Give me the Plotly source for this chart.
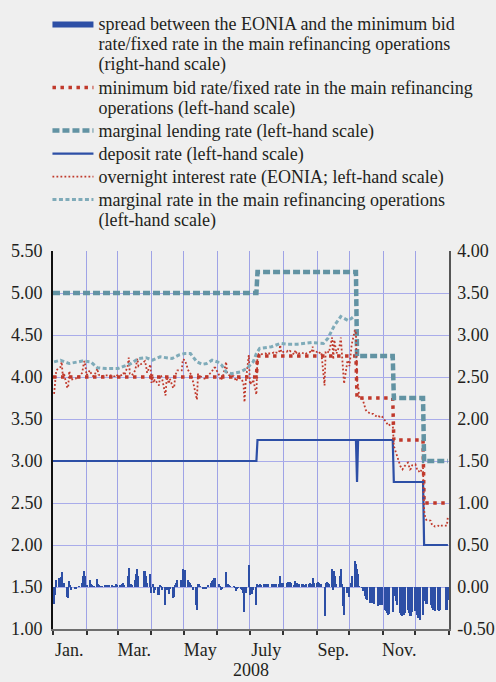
import pandas as pd
import plotly.graph_objects as go

# ---------------- data ----------------
# key ECB rates: effective dates of changes and levels (% p.a.)
mro_dates = ["2008-01-01", "2008-07-08", "2008-10-08", "2008-11-11", "2008-12-09"]
mro_vals = [4.00, 4.25, 3.75, 3.25, 2.50]
mlf_dates = ["2008-01-01", "2008-07-08", "2008-10-08", "2008-11-11", "2008-12-09"]
mlf_vals = [5.00, 5.25, 4.25, 3.75, 3.00]
dep_dates = ["2008-01-01", "2008-07-08", "2008-10-08", "2008-10-09", "2008-11-11", "2008-12-09"]
dep_vals = [3.00, 3.25, 2.75, 3.25, 2.75, 2.00]

# marginal rate in the main refinancing operations (weekly tenders)
mr_dates = ["2008-01-02", "2008-01-08", "2008-01-16", "2008-01-28", "2008-02-05", "2008-02-11",
            "2008-02-19", "2008-03-01", "2008-03-05", "2008-03-13", "2008-03-20", "2008-03-27",
            "2008-04-02", "2008-04-09", "2008-04-20", "2008-04-26", "2008-05-02", "2008-05-07",
            "2008-05-13", "2008-05-18", "2008-05-22", "2008-05-27", "2008-06-01", "2008-06-05",
            "2008-06-09", "2008-06-14", "2008-06-22", "2008-06-28", "2008-07-04", "2008-07-07",
            "2008-07-10", "2008-07-21", "2008-07-29", "2008-08-05", "2008-08-14", "2008-08-27",
            "2008-09-07", "2008-09-11", "2008-09-17", "2008-09-23", "2008-09-30", "2008-10-06"]
mr_vals = [4.18, 4.20, 4.16, 4.19, 4.18, 4.11, 4.10, 4.10, 4.12, 4.16, 4.22, 4.23,
           4.20, 4.24, 4.22, 4.26, 4.28, 4.28, 4.18, 4.15, 4.16, 4.20, 4.18, 4.14,
           4.06, 4.04, 4.06, 4.10, 4.18, 4.28, 4.34, 4.36, 4.40, 4.39, 4.39, 4.41,
           4.40, 4.46, 4.61, 4.72, 4.67, 4.73]

# spread EONIA minus minimum bid/fixed rate, per TARGET business day, by month
spread_jan = [-0.20, -0.09, 0.08, 0.11, 0.12, 0.18, 0.02, 0.05, -0.12, -0.13, 0.07, 0.02, -0.03,
              -0.02, -0.02, 0.00, 0.00, 0.01, 0.05, 0.13, 0.19, 0.13]
spread_feb = [0.02, 0.08, 0.04, 0.02, 0.01, 0.01, 0.10, 0.03, 0.02, 0.01, 0.01, 0.02, 0.02, 0.02,
              0.02, 0.02, 0.02, 0.01, 0.01, 0.03, 0.02]
spread_mar = [0.02, 0.02, 0.03, 0.05, 0.02, 0.13, 0.23, 0.04, 0.03, 0.02, 0.08, 0.15, 0.22, 0.13,
              0.19, 0.19, 0.13, 0.05, 0.15]
spread_apr = [-0.07, 0.03, -0.07, -0.03, -0.09, -0.10, 0.02, 0.01, -0.03, -0.22, -0.03, -0.02,
              -0.08, -0.02, -0.13, -0.12, 0.02, 0.05, 0.08, 0.08, 0.08, 0.21]
spread_may = [0.20, 0.08, 0.06, 0.05, 0.02, -0.03, -0.21, -0.27, 0.03, 0.03, 0.01, -0.02, -0.02,
              -0.02, 0.00, 0.02, 0.05, 0.07, 0.08, 0.11, 0.11]
spread_jun = [0.04, 0.01, -0.04, -0.02, 0.00, 0.18, 0.04, 0.03, 0.02, 0.01, 0.01, -0.01, -0.05,
              -0.02, -0.01, -0.02, -0.04, -0.07, -0.30, -0.07, 0.26]
spread_jul = [-0.09, -0.07, -0.08, -0.03, -0.21, 0.03, 0.02, 0.03, 0.02, 0.03, 0.03, 0.03, 0.04,
              0.03, 0.03, 0.04, 0.04, 0.03, 0.04, 0.04, 0.13, 0.04, 0.05]
spread_aug = [0.05, 0.05, 0.06, 0.05, 0.06, 0.05, 0.02, 0.07, 0.04, 0.05, 0.03, 0.04, 0.03, 0.02,
              0.02, 0.03, 0.04, 0.05, 0.04, 0.11, 0.05]
spread_sep = [0.05, 0.06, 0.05, 0.03, 0.04, -0.35, 0.05, 0.06, 0.05, 0.04, 0.22, -0.04, 0.19, 0.13,
              0.03, 0.13, 0.22, 0.03, -0.23, -0.33, -0.07, -0.05]
spread_oct = [-0.12, 0.05, 0.13, 0.31, 0.27, 0.21, 0.15, 0.01, -0.01, -0.05, -0.11, -0.14, -0.16,
              -0.19, -0.19, -0.19, -0.19, -0.20, -0.23, -0.22, -0.22, -0.21, -0.22]
spread_nov = [-0.27, -0.29, -0.31, -0.33, -0.32, -0.30, -0.07, -0.11, -0.17, -0.21, -0.31, -0.33,
              -0.35, -0.33, -0.31, -0.27, -0.31, -0.35, -0.34, -0.30]
spread_dec = [-0.29, -0.33, -0.37, -0.37, -0.39, -0.33, -0.09, -0.17, -0.20, -0.20, -0.21, -0.25,
              -0.27, -0.27, -0.28, -0.27, -0.28, -0.27, -0.27, -0.27, -0.16]

target_holidays = ["2008-01-01", "2008-03-21", "2008-03-24", "2008-05-01", "2008-12-25", "2008-12-26"]

month_ticks = ["2008-01-16", "2008-03-16", "2008-05-16", "2008-07-16", "2008-09-16", "2008-11-16"]
month_labels = ["Jan.", "Mar.", "May", "July", "Sep.", "Nov."]
month_starts = ["2008-%02d-01" % m for m in range(1, 13)] + ["2009-01-01"]

left_ticks = [1.0, 1.5, 2.0, 2.5, 3.0, 3.5, 4.0, 4.5, 5.0, 5.5]
right_ticks = [-0.5, 0.0, 0.5, 1.0, 1.5, 2.0, 2.5, 3.0, 3.5, 4.0]
right_labels = ["-0.50", "0.00", "0.50", "1.00", "1.50", "2.00", "2.50", "3.00", "3.50", "4.00"]

names = [
    ["spread between the EONIA and the minimum bid",
     "rate/fixed rate in the main refinancing operations",
     "(right-hand scale)"],
    ["minimum bid rate/fixed rate in the main refinancing",
     "operations (left-hand scale)"],
    ["marginal lending rate (left-hand scale)"],
    ["deposit rate (left-hand scale)"],
    ["overnight interest rate (EONIA; left-hand scale)"],
    ["marginal rate in the main refinancing operations",
     "(left-hand scale)"],
]

# ---------------- build series ----------------
days = pd.date_range("2008-01-01", "2008-12-31", freq="D")


def daily(dates, vals):
    return pd.Series(vals, index=pd.to_datetime(dates)).reindex(days).ffill()


mro = daily(mro_dates, mro_vals)
mlf = daily(mlf_dates, mlf_vals)
dep = daily(dep_dates, dep_vals)

bdays = pd.bdate_range("2008-01-01", "2008-12-31")
bdays = bdays[~bdays.isin(pd.to_datetime(target_holidays))]
spread = (spread_jan + spread_feb + spread_mar + spread_apr + spread_may + spread_jun +
          spread_jul + spread_aug + spread_sep + spread_oct + spread_nov + spread_dec)
assert len(spread) == len(bdays), (len(spread), len(bdays))
eonia = [round(m + s, 2) for m, s in zip(mro.loc[bdays].values, spread)]

# ---------------- style ----------------
FONT = "Liberation Serif"
TXT = "#231F20"
BLUE = "#2D4FA6"
RED = "#C0392B"
TEAL = "#6293A3"
TEAL_L = "#7FABB9"
GRID = "#A9ACEA"
VGRID = "#9FA3E6"
BG = "#EFEFEF"


def leg(lines):
    return "<br>".join('<span style="font-size:18px">%s</span>' % s for s in lines)


fig = go.Figure()
fig.add_trace(go.Bar(x=bdays, y=spread, yaxis="y2", marker=dict(color=BLUE, line=dict(width=0)),
                     width=86400000, showlegend=False, name="spread"))
fig.add_trace(go.Scatter(x=[None], y=[None], mode="lines", name=leg(names[0]),
                         line=dict(color=BLUE, width=6)))
fig.add_trace(go.Scatter(x=days, y=mro, mode="lines", name=leg(names[1]),
                         line=dict(color=RED, width=3.5, dash="3.5px,4.5px")))
fig.add_trace(go.Scatter(x=days, y=mlf, mode="lines", name=leg(names[2]),
                         line=dict(color=TEAL, width=4.5, dash="7px,3px")))
fig.add_trace(go.Scatter(x=days, y=dep, mode="lines", name=leg(names[3]),
                         line=dict(color=BLUE, width=2.2)))
fig.add_trace(go.Scatter(x=bdays, y=eonia, mode="lines", name=leg(names[4]),
                         line=dict(color=RED, width=1.8, dash="1.8px,2.2px")))
fig.add_trace(go.Scatter(x=pd.to_datetime(mr_dates), y=mr_vals, mode="lines", name=leg(names[5]),
                         line=dict(color=TEAL_L, width=3, dash="4px,2.5px")))

fig.update_layout(
    width=496, height=682,
    margin=dict(l=53, r=47, t=251, b=53, autoexpand=False),
    paper_bgcolor=BG, plot_bgcolor=BG,
    font=dict(family=FONT, size=18, color=TXT),
    bargap=0,
    showlegend=True,
    legend=dict(x=-0.014, y=1.643, xanchor="left", yanchor="top",
                font=dict(family=FONT, size=15.4, color=TXT),
                bgcolor="rgba(0,0,0,0)", itemwidth=41, valign="top",
                tracegroupgap=0, traceorder="normal"),
    xaxis=dict(type="date", range=["2008-01-01", "2009-01-01"], automargin=False,
               tickmode="array", tickvals=month_ticks, ticktext=month_labels,
               ticks="", showgrid=False, ticklabelstandoff=3,
               showline=True, linecolor="#6E6E6E", linewidth=2,
               minor=dict(tickmode="array", tickvals=month_starts, ticks="outside",
                          ticklen=4, tickcolor="#333333", tickwidth=1.5,
                          showgrid=True, gridcolor=VGRID, gridwidth=1.2),
               title=dict(text="2008", standoff=4, font=dict(size=18)),
               zeroline=False),
    yaxis=dict(range=[1.0, 5.5], tickmode="array", tickvals=left_ticks, tickformat=".2f",
               automargin=False,
               showgrid=True, gridcolor=GRID, gridwidth=1,
               showline=True, linecolor="#111111", linewidth=2,
               ticks="", ticklabelstandoff=5, zeroline=False),
    yaxis2=dict(range=[-0.5, 4.0], tickmode="array", tickvals=right_ticks, ticktext=right_labels,
                automargin=False,
                overlaying="y", side="right", showgrid=False,
                showline=True, linecolor="#555555", linewidth=1.5,
                ticks="", ticklabelstandoff=3, zeroline=False),
)

fig.write_html("out.html", config={"displayModeBar": False},
               post_script="document.body.style.margin='0';document.body.style.background='%s';" % BG)
